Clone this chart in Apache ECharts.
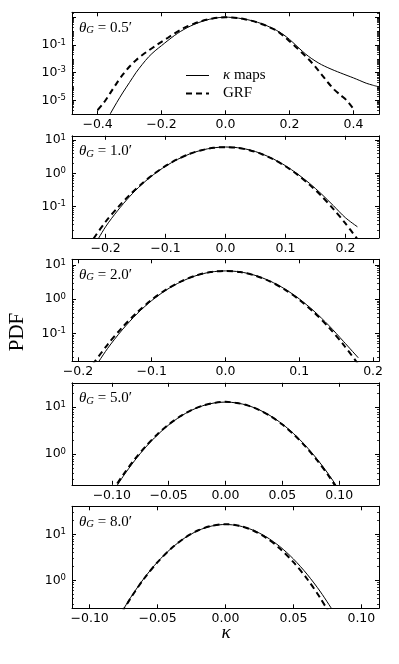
<!DOCTYPE html>
<html>
<head>
<meta charset="UTF-8">
<title>PDF</title>
<script src="https://cdn.jsdelivr.net/npm/echarts@6/dist/echarts.min.js"></script>
<style>
    html, body {margin: 0; padding: 0; background: #fff;}
    #chart {width: 399px; height: 664px;}
</style>
</head>
<body>
<div id="chart"></div>
<script>
    // smoothing scale of each panel (arcmin)
    var thetaLabels = ['0.5', '1.0', '2.0', '5.0', '8.0'];

    // panel 1
    var kappa1 = [-0.40, -0.38, -0.36, -0.34, -0.32, -0.30, -0.28, -0.26, -0.24, -0.22, -0.20, -0.18, -0.16, -0.14, -0.12,
        -0.10, -0.08, -0.06, -0.04, -0.02, 0, 0.02, 0.04, 0.06, 0.08, 0.10, 0.12, 0.14, 0.16, 0.18, 0.20, 0.22, 0.24,
        0.26, 0.28, 0.30, 0.32, 0.34, 0.36, 0.38, 0.40, 0.42, 0.44, 0.46, 0.48];
    var maps1 = [null, 1.8e-7, 1.12e-6, 7.1e-6, 4.0e-5, 2.0e-4, 1.0e-3, 4.0e-3, 0.0141, 0.038, 0.089, 0.209, 0.468, 0.955, 1.74,
        2.88, 4.37, 6.17, 7.94, 9.33, 10.0, 9.55, 8.51, 7.24, 5.75, 4.27, 2.95, 1.86, 1.10, 0.575, 0.251, 0.0955, 0.0355,
        0.0148, 7.1e-3, 3.8e-3, 2.29e-3, 1.45e-3, 9.5e-4, 6.3e-4, 4.2e-4, 2.7e-4, 1.74e-4, 1.26e-4, 9.5e-5];
    var grf1 = [2.0e-6, 7.1e-6, 3.5e-5, 1.78e-4, 7.9e-4, 2.8e-3, 7.9e-3, 0.019, 0.04, 0.083, 0.166, 0.33, 0.66, 1.26, 2.14,
        3.31, 4.79, 6.46, 8.13, 9.33, 10.0, 9.55, 8.51, 7.08, 5.62, 4.17, 2.82, 1.78, 1.05, 0.47, 0.186, 0.071, 0.026,
        9.3e-3, 2.8e-3, 7.6e-4, 2.0e-4, 6.0e-5, 2.4e-5, 9.5e-6, 2.5e-6, null, null, null, null];

    // panel 2
    var kappa2 = [-0.22, -0.20, -0.18, -0.16, -0.14, -0.12, -0.10, -0.08, -0.06, -0.04, -0.02, 0,
        0.02, 0.04, 0.06, 0.08, 0.10, 0.12, 0.14, 0.16, 0.18, 0.20, 0.22];
    var maps2 = [6.3e-3, 0.0251, 0.0759, 0.2, 0.457, 0.912, 1.62, 2.60, 3.76, 4.90, 5.75, 6.10,
        5.82, 5.01, 3.85, 2.66, 1.68, 0.955, 0.501, 0.240, 0.107, 0.0468, 0.0251];
    var grf2 = [0.0112, 0.0355, 0.0933, 0.224, 0.479, 0.933, 1.66, 2.63, 3.80, 4.90, 5.75, 6.03,
        5.75, 4.90, 3.76, 2.60, 1.62, 0.912, 0.457, 0.209, 0.0851, 0.0316, 0.0107];

    // panel 3
    var kappa3 = [-0.18, -0.16, -0.14, -0.12, -0.10, -0.08, -0.06, -0.04, -0.02, 0,
        0.02, 0.04, 0.06, 0.08, 0.10, 0.12, 0.14, 0.16, 0.18];
    var maps3 = [7.9e-3, 0.0355, 0.126, 0.372, 0.912, 1.88, 3.27, 4.90, 6.24, 6.76,
        6.31, 5.01, 3.43, 2.02, 1.02, 0.447, 0.170, 0.0575, 0.0191];
    var grf3 = [0.0123, 0.0461, 0.1486, 0.409, 0.964, 1.945, 3.35, 4.95, 6.25, 6.76,
        6.25, 4.95, 3.35, 1.945, 0.964, 0.409, 0.1486, 0.0461, 0.0123];

    // panel 4
    var kappa4 = [-0.10, -0.09, -0.08, -0.07, -0.06, -0.05, -0.04, -0.03, -0.02, -0.01, 0,
        0.01, 0.02, 0.03, 0.04, 0.05, 0.06, 0.07, 0.08, 0.09, 0.10];
    var maps4 = [0.145, 0.339, 0.728, 1.43, 2.56, 4.19, 6.28, 8.60, 10.76, 12.32, 12.88,
        12.33, 10.84, 8.75, 6.47, 4.39, 2.73, 1.56, 0.818, 0.394, 0.174];
    var grf4 = [0.158, 0.366, 0.773, 1.49, 2.64, 4.29, 6.37, 8.67, 10.81, 12.33, 13.03,
        12.33, 10.81, 8.67, 6.37, 4.29, 2.64, 1.49, 0.773, 0.366, 0.158];

    // panel 5
    var kappa5 = [-0.08, -0.07, -0.06, -0.05, -0.04, -0.03, -0.02, -0.01, 0,
        0.01, 0.02, 0.03, 0.04, 0.05, 0.06, 0.07, 0.08];
    var maps5 = [0.134, 0.414, 1.10, 2.51, 4.92, 8.33, 12.13, 15.18, 16.37,
        15.28, 12.42, 8.79, 5.42, 2.91, 1.36, 0.555, 0.197];
    var grf5 = [0.128, 0.401, 1.08, 2.48, 4.92, 8.37, 12.25, 15.38, 16.6,
        15.38, 12.25, 8.37, 4.92, 2.48, 1.08, 0.401, 0.128];

    // tick labels
    var xTicks = [
        [-0.4, -0.2, 0, 0.2, 0.4],
        [-0.2, -0.1, 0, 0.1, 0.2],
        [-0.2, -0.1, 0, 0.1, 0.2],
        [-0.1, -0.05, 0, 0.05, 0.1],
        [-0.1, -0.05, 0, 0.05, 0.1]
    ];
    var xDecimals = [1, 1, 1, 2, 2];
    var yTicks = [
        [1e-5, 1e-3, 1e-1],
        [0.1, 1, 10],
        [0.1, 1, 10],
        [1, 10],
        [1, 10]
    ];

    var kappas = [kappa1, kappa2, kappa3, kappa4, kappa5];
    var mapsAll = [maps1, maps2, maps3, maps4, maps5];
    var grfAll = [grf1, grf2, grf3, grf4, grf5];

    // axes limits
    var xLim = [0.48, 0.256, 0.208, 0.135, 0.113];
    var yLo = [1e-6, 0.01175, 0.01514, 0.2239, 0.2455];
    var yHi = [22.4, 13.18, 14.79, 33.1, 40.7];
    var tops = [12.3, 135.8, 259.3, 382.8, 506.3];

    var SERIF = '"Liberation Serif", "DejaVu Serif", serif';
    var SANS = '"DejaVu Sans", sans-serif';

    function minorTicks(lo, hi, majors) {
        var out = [];
        for (var d = Math.floor(Math.log10(lo)); d <= Math.ceil(Math.log10(hi)); d++) {
            for (var m = 1; m < 10; m++) {
                var v = m * Math.pow(10, d);
                if (v < lo || v > hi) continue;
                if (m === 1 && majors.indexOf(v) >= 0) continue;
                out.push(v);
            }
        }
        return out;
    }

    var grids = [], xAxes = [], yAxes = [], series = [], graphics = [];
    var line = {show: true, onZero: false, lineStyle: {color: '#000', width: 1}};

    for (var i = 0; i < 5; i++) {
        grids.push({left: 72, top: tops[i], width: 307, height: 102, outerBoundsMode: 'none'});
        (function (i) {
            xAxes.push({
                gridIndex: i, type: 'value', min: -xLim[i], max: xLim[i],
                axisLine: line, splitLine: {show: false},
                axisTick: {inside: true, length: 4, lineStyle: {color: '#000'}, customValues: xTicks[i]},
                axisLabel: {
                    customValues: xTicks[i], margin: 4, color: '#000', fontFamily: SANS, fontSize: 12.5,
                    formatter: function (v) {
                        var s = Math.abs(v).toFixed(xDecimals[i]);
                        return v < -1e-9 ? '\u2212' + s : s;
                    }
                }
            });
            xAxes.push({
                gridIndex: i, type: 'value', position: 'top', min: -xLim[i], max: xLim[i],
                axisLine: line, splitLine: {show: false}, axisLabel: {show: false},
                axisTick: {inside: true, length: 4, lineStyle: {color: '#000'}, customValues: xTicks[i]}
            });
            var majors = yTicks[i].slice();
            if (i === 0) majors.push(10);
            var minors = minorTicks(yLo[i], yHi[i], majors);
            yAxes.push({
                gridIndex: i, type: 'log', logBase: 10, min: yLo[i], max: yHi[i],
                axisLine: line, splitLine: {show: false},
                axisTick: {inside: true, length: 4, lineStyle: {color: '#000'}, customValues: majors},
                axisLabel: {
                    customValues: yTicks[i], margin: 6, color: '#000',
                    formatter: function (v) {
                        return '{b|10}{e|' + Math.round(Math.log10(v)) + '}';
                    },
                    rich: {
                        b: {fontFamily: SANS, fontSize: 12.5, color: '#000', lineHeight: 14},
                        e: {fontFamily: SANS, fontSize: 8.5, color: '#000', lineHeight: 8, verticalAlign: 'top'}
                    }
                }
            });
            yAxes.push({
                gridIndex: i, type: 'log', logBase: 10, min: yLo[i], max: yHi[i], position: 'right',
                axisLine: line, splitLine: {show: false}, axisLabel: {show: false},
                axisTick: {inside: true, length: 4, lineStyle: {color: '#000'}, customValues: majors}
            });
            ['left', 'right'].forEach(function (pos) {
                yAxes.push({
                    gridIndex: i, type: 'log', logBase: 10, min: yLo[i], max: yHi[i], position: pos,
                    axisLine: {show: false, onZero: false}, splitLine: {show: false}, axisLabel: {show: false},
                    axisTick: {inside: true, length: 2, lineStyle: {color: '#000', width: 0.8}, customValues: minors}
                });
            });
            var ks = kappas[i];
            series.push({
                name: '\u03ba maps', type: 'line', xAxisIndex: 2 * i, yAxisIndex: 4 * i,
                data: ks.map(function (k, j) { return [k, mapsAll[i][j]]; }),
                symbol: 'none', smooth: 0.3, animation: false,
                itemStyle: {color: '#000'},
                lineStyle: {color: '#000', width: 1}
            });
            series.push({
                name: 'GRF', type: 'line', xAxisIndex: 2 * i, yAxisIndex: 4 * i,
                data: ks.map(function (k, j) { return [k, grfAll[i][j]]; }),
                symbol: 'none', smooth: 0.3, animation: false,
                itemStyle: {color: '#000'},
                lineStyle: {color: '#000', width: 2, type: [6, 4]}
            });
            graphics.push({
                type: 'text', x: 79, y: tops[i] + 15.5,
                style: {
                    text: '{t|\u03b8}{g|G}{n| = ' + thetaLabels[i] + '\u2032}',
                    verticalAlign: 'middle',
                    rich: {
                        t: {fontFamily: SERIF, fontStyle: 'italic', fontSize: 15, fill: '#000', lineHeight: 16},
                        g: {fontFamily: SERIF, fontStyle: 'italic', fontSize: 10.5, fill: '#000', lineHeight: 8, verticalAlign: 'bottom'},
                        n: {fontFamily: SERIF, fontSize: 15, fill: '#000', lineHeight: 16}
                    }
                }
            });
        })(i);
    }

    graphics.push({
        type: 'text', x: 17.5, y: 332, rotation: Math.PI / 2,
        style: {text: 'PDF', fontFamily: SERIF, fontSize: 21, fill: '#000', align: 'center', verticalAlign: 'middle'}
    });
    graphics.push({
        type: 'text', x: 226, y: 633,
        style: {text: '\u03ba', fontFamily: SERIF, fontStyle: 'italic', fontSize: 19, fill: '#000', align: 'center', verticalAlign: 'middle'}
    });

    var myChart = echarts.init(document.getElementById('chart'));
    myChart.setOption({
        backgroundColor: '#fff',
        animation: false,
        grid: grids,
        xAxis: xAxes,
        yAxis: yAxes,
        series: series,
        graphic: graphics,
        legend: {
            data: ['\u03ba maps', 'GRF'],
            orient: 'vertical', left: 185, top: 68, padding: 0,
            itemWidth: 23, itemHeight: 10, itemGap: 3,
            selectedMode: false,
            itemStyle: {opacity: 0},
            lineStyle: {width: 'inherit'},
            formatter: function (name) {
                return name === 'GRF' ? '{n|GRF}' : '{k|\u03ba}{n| maps}';
            },
            textStyle: {
                color: '#000', padding: [0, 0, 0, 9],
                rich: {
                    k: {fontFamily: SERIF, fontStyle: 'italic', fontSize: 15, color: '#000', lineHeight: 14},
                    n: {fontFamily: SERIF, fontSize: 15, color: '#000', lineHeight: 14}
                }
            }
        }
    });
</script>
</body>
</html>
